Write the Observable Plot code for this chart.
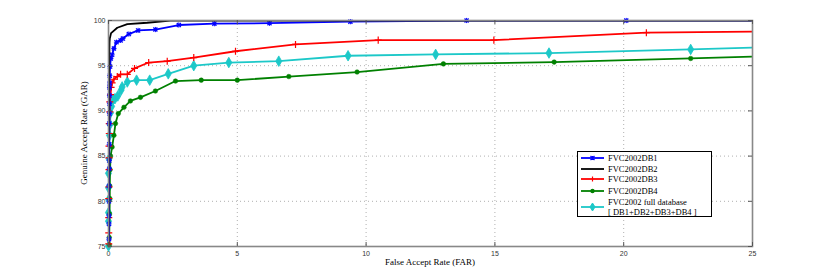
<!DOCTYPE html>
<html>
<head>
<meta charset="utf-8">
<script src="https://cdn.jsdelivr.net/npm/d3@7"></script>
<script src="https://cdn.jsdelivr.net/npm/@observablehq/plot@0.6"></script>
<style>
  html, body { margin: 0; padding: 0; background: #fff; }
  #wrap { position: relative; width: 830px; height: 277px; }
  .serif { font-family: "Liberation Serif", "DejaVu Serif", serif; color: #000; }
  #xlab { position: absolute; left: 330px; width: 200px; top: 257px; text-align: center; font-size: 9px; line-height: 10px; }
  #ylab { position: absolute; left: 84px; top: 133px; font-size: 9px; line-height: 10px; white-space: nowrap; transform: translate(-50%, -50%) rotate(-90deg); }
  #legend { position: absolute; left: 577px; top: 151px; width: 135px; height: 66px; border: 1px solid #000; background: #fff; box-sizing: border-box; font-size: 8.5px; }
  .item { position: absolute; left: 0; height: 10px; display: flex; align-items: center; }
  .item svg { margin-left: 3px; margin-right: 4px; }
</style>
</head>
<body>
<div id="wrap">
  <div id="chart"></div>
  <div id="xlab" class="serif">False Accept Rate (FAR)</div>
  <div id="ylab" class="serif">Genuine Accept Rate (GAR)</div>
  <div id="legend" class="serif"></div>
</div>
<script>
// ---- data ----
const seriesNames = ["FVC2002DB1", "FVC2002DB2", "FVC2002DB3", "FVC2002DB4", "FVC2002 full database"];
const legendSecondLine = "[ DB1+DB2+DB3+DB4 ]";

const db1Far = [0.02,0.02,0.02,0.02,0.02,0.03,0.03,0.03,0.03,0.04,0.04,0.04,0.04,0.05,0.05,0.06,0.09,0.14,0.21,0.31,0.47,0.56,0.79,1.15,1.82,2.73,4.11,6.25,9.39,13.9,20.1,25];
const db1Gar = [75.8,77.5,78.4,80.0,81.7,83.6,84.5,86.3,88.6,89.7,90.8,91.7,92.6,93.1,93.9,94.9,95.8,96.2,96.9,97.6,97.8,98.0,98.5,98.9,99.0,99.5,99.65,99.7,99.87,100,100,100];

const db2Far = [0,0.01,0.02,0.04,0.05,0.1,0.34,0.73,1.5,2.4,25];
const db2Gar = [75,88,94,97.6,98.0,98.6,99.2,99.6,99.75,100,100];

const db3Far = [0.01,0.01,0.01,0.01,0.02,0.02,0.02,0.02,0.03,0.03,0.05,0.05,0.08,0.1,0.14,0.21,0.34,0.47,0.73,1.01,1.56,2.28,3.31,4.93,7.26,10.47,14.96,20.88,25];
const db3Gar = [75.3,76.5,78.2,80.3,81.6,83.5,84.8,86.1,87.5,88.6,89.9,91.0,91.8,92.6,93.1,93.5,93.8,94.05,94.05,94.7,95.35,95.5,95.9,96.6,97.35,97.83,97.83,98.65,98.76];

const db4Far = [0.03,0.03,0.04,0.05,0.05,0.06,0.08,0.14,0.21,0.27,0.38,0.6,0.85,1.24,1.82,2.6,3.6,5.0,7.0,9.65,13.0,17.3,22.6,25];
const db4Gar = [75.2,76.0,78.6,80.3,81.7,83.5,85.0,86.0,87.3,88.6,89.7,90.4,91.1,91.5,92.2,93.3,93.4,93.4,93.8,94.3,95.2,95.4,95.8,96.0];

const allFar = [0,0,0,0.01,0,0,0.02,0.04,0.06,0.08,0.12,0.17,0.25,0.36,0.49,0.53,0.73,1.09,1.6,2.32,3.31,4.67,6.61,9.3,12.7,17.1,22.6,25];
const allGar = [75.05,77.8,78.75,80.2,81.5,83.1,84.7,87.3,88.5,89.8,90.5,91.2,91.35,91.65,92.3,92.65,93.2,93.4,93.4,94.1,95.0,95.35,95.5,96.1,96.25,96.4,96.8,97.0];

const xTicks = [0, 5, 10, 15, 20, 25];
const yTicks = [75, 80, 85, 90, 95, 100];

// ---- styles ----
const colors = ["#0000ff", "#000000", "#ff0000", "#008000", "#1cc8c8"];
const symbols = ["times", null, "plus", "circle", "diamond"];

const toRows = (far, gar) => far.map((f, i) => ({far: f, gar: gar[i]}));
const series = [
  toRows(db1Far, db1Gar),
  toRows(db2Far, db2Gar),
  toRows(db3Far, db3Gar),
  toRows(db4Far, db4Gar),
  toRows(allFar, allGar)
];

const W = 830, H = 277;
const mL = 108, mR = 78, mT = 20, mB = 31;
const plotH = H - mT - mB, plotW = W - mL - mR;

const marks = [
  Plot.gridX(xTicks, {stroke: "#b0b0b0", strokeOpacity: 1, strokeDasharray: "1,3", strokeWidth: 1}),
  Plot.gridY(yTicks, {stroke: "#b0b0b0", strokeOpacity: 1, strokeDasharray: "1,3", strokeWidth: 1}),
  Plot.axisX(xTicks, {tickSize: 0, tickPadding: 5, fontSize: 7, fontFamily: "Liberation Sans, sans-serif", fill: "#333", label: null}),
  Plot.axisY(yTicks, {tickSize: 0, tickPadding: 3, fontSize: 7, fontFamily: "Liberation Sans, sans-serif", fill: "#333", label: null})
];

// draw series: cyan last but lines in order 0..4 like reference layering
const order = [4, 3, 2, 0, 1];
for (const i of order) {
  const data = series[i];
  marks.push(Plot.line(data, {x: "far", y: "gar", stroke: colors[i], strokeWidth: 1.8, clip: true}));
  if (symbols[i]) {
    const pts = data.filter(d => d.far < 25);
    if (symbols[i] === "times") {
      marks.push(Plot.dot(pts, {x: "far", y: "gar", symbol: "times", r: 2, stroke: colors[i], strokeWidth: 1.3}));
      marks.push(Plot.dot(pts, {x: "far", y: "gar", symbol: "plus", r: 1.8, stroke: colors[i], strokeWidth: 1}));
    } else if (symbols[i] === "plus") {
      marks.push(Plot.dot(pts, {x: "far", y: "gar", symbol: "plus", r: 2.4, stroke: colors[i], strokeWidth: 1.2}));
    } else if (symbols[i] === "circle") {
      marks.push(Plot.dot(pts, {x: "far", y: "gar", r: 2.3, fill: colors[i], stroke: colors[i], strokeWidth: 0.5}));
    } else {
      marks.push(Plot.dot(pts, {x: "far", y: "gar", symbol: "diamond", r: 3.2, fill: colors[i], stroke: colors[i], strokeWidth: 0.8}));
    }
  }
}

// frame and inward ticks (MATLAB-like box)
marks.push(Plot.frame({stroke: "#888", strokeWidth: 1.6}));
marks.push(Plot.tickX(xTicks, {x: d => d, stroke: "#555", insetTop: plotH - 4}));
marks.push(Plot.tickX(xTicks, {x: d => d, stroke: "#555", insetBottom: plotH - 4}));
marks.push(Plot.tickY(yTicks, {y: d => d, stroke: "#555", insetRight: plotW - 4}));
marks.push(Plot.tickY(yTicks, {y: d => d, stroke: "#555", insetLeft: plotW - 4}));

const chart = Plot.plot({
  width: W, height: H,
  marginLeft: mL, marginRight: mR, marginTop: mT, marginBottom: mB,
  x: {domain: [0, 25]},
  y: {domain: [75, 100]},
  style: {background: "#fff"},
  marks
});
document.getElementById("chart").appendChild(chart);

// ---- legend ----
const legend = document.getElementById("legend");
const tops = [1, 11.5, 22, 34, 45];
seriesNames.forEach((name, i) => {
  const item = document.createElement("div");
  item.className = "item";
  item.style.top = (i === 4 ? 45 : tops[i]) + "px";
  if (i === 4) item.style.height = "20px";
  const svg = d3.create("svg").attr("width", 23).attr("height", 10);
  svg.append("line").attr("x1", 0).attr("x2", 23).attr("y1", 5).attr("y2", 5)
    .attr("stroke", colors[i]).attr("stroke-width", 1.8);
  const cx = 11.5, cy = 5;
  if (symbols[i] === "times") {
    svg.append("path").attr("d", `M${cx-2},${cy-2}L${cx+2},${cy+2}M${cx+2},${cy-2}L${cx-2},${cy+2}M${cx},${cy-2}V${cy+2}`).attr("stroke", colors[i]).attr("stroke-width", 1.2);
  } else if (symbols[i] === "plus") {
    svg.append("path").attr("d", `M${cx},${cy-2.5}V${cy+2.5}`).attr("stroke", colors[i]).attr("stroke-width", 1.2);
  } else if (symbols[i] === "circle") {
    svg.append("circle").attr("cx", cx).attr("cy", cy).attr("r", 2.2).attr("fill", colors[i]);
  } else if (symbols[i] === "diamond") {
    svg.append("path").attr("d", `M${cx},${cy-4}L${cx+2.5},${cy}L${cx},${cy+4}L${cx-2.5},${cy}Z`).attr("fill", colors[i]).attr("stroke", colors[i]);
  }
  item.appendChild(svg.node());
  const label = document.createElement("div");
  label.style.lineHeight = "10px";
  if (i === 4) {
    label.innerHTML = name + "<br>" + legendSecondLine;
  } else {
    label.textContent = name;
  }
  item.appendChild(label);
  legend.appendChild(item);
});
</script>
</body>
</html>
